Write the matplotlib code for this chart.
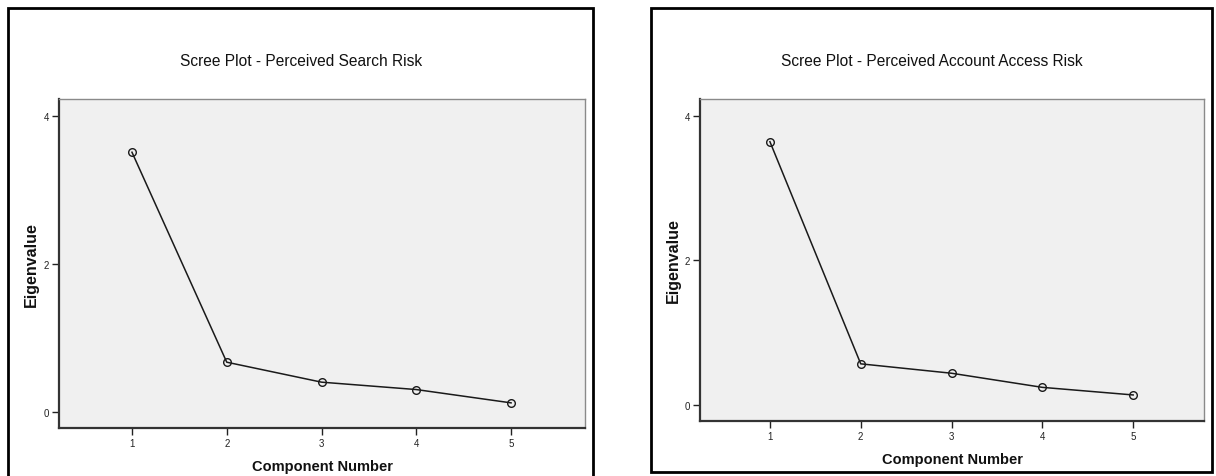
import matplotlib
matplotlib.use("Agg")
import matplotlib.pyplot as plt
from matplotlib.patches import Rectangle

plt.rcParams['font.family'] = ['Liberation Sans', 'DejaVu Sans']

components = [1, 2, 3, 4, 5]
search_eigen = [3.51, 0.67, 0.40, 0.30, 0.12]
account_eigen = [3.64, 0.57, 0.44, 0.245, 0.14]
titles = ["Scree Plot - Perceived Search Risk",
          "Scree Plot - Perceived Account Access Risk"]
y_ticks = [0, 2, 4]

W, H = 1216, 477
fig = plt.figure(figsize=(W / 100, H / 100), dpi=100)
fig.patch.set_facecolor('white')


def px_rect(x0, y0, x1, y1):
    return [x0 / W, 1 - y1 / H, (x1 - x0) / W, (y1 - y0) / H]


def frame(x0, y0, x1, y1):
    fig.add_artist(Rectangle((x0 / W, 1 - y1 / H), (x1 - x0) / W, (y1 - y0) / H,
                             transform=fig.transFigure, fill=False,
                             edgecolor='black', linewidth=2.0, clip_on=False))


def scree(rect, values, title, title_x, title_y):
    ax = fig.add_axes(rect)
    ax.set_facecolor('#f0f0f0')
    ax.plot(components, values, color='#1a1a1a', linewidth=1.1,
            marker='o', markersize=5.5, markerfacecolor='none',
            markeredgecolor='#1a1a1a', markeredgewidth=1.0)
    ax.set_xlim(0.23, 5.78)
    ax.set_ylim(-0.22, 4.23)
    ax.set_xticks(components)
    ax.set_yticks(y_ticks)
    ax.tick_params(direction='out', length=5, width=1, labelsize=7,
                   colors='#222222', pad=2)
    for s in ('left', 'bottom'):
        ax.spines[s].set_color('#333333')
        ax.spines[s].set_linewidth(1.6)
    for s in ('top', 'right'):
        ax.spines[s].set_color('#8a8a8a')
        ax.spines[s].set_linewidth(1.0)
    ax.set_xlabel("Component Number", fontsize=10.5, fontweight='bold',
                  labelpad=8, color='#111111')
    ax.set_ylabel("Eigenvalue", fontsize=11.5, fontweight='bold',
                  color='#111111')
    ax.yaxis.set_label_coords(-0.038, 0.5)
    fig.text(title_x / W, 1 - title_y / H, title, ha='center', va='center',
             fontsize=11.2, color='#111111')
    return ax


frame(8, 9, 593, 490)
frame(651, 9, 1212, 473)

scree(px_rect(59, 100, 585, 429), search_eigen, titles[0], 301, 62)
scree(px_rect(700, 100, 1204, 422), account_eigen, titles[1], 932, 62)

fig.savefig("out.png", dpi=100)
